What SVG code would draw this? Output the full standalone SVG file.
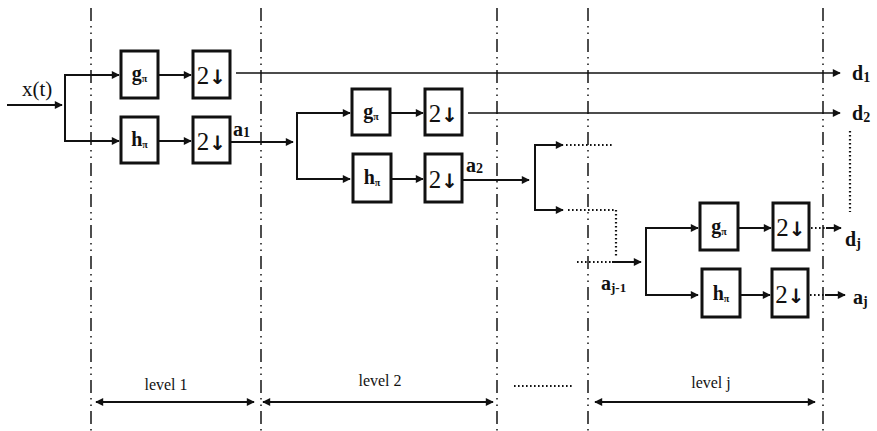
<svg xmlns="http://www.w3.org/2000/svg" width="877" height="431" viewBox="0 0 877 431">
<style>
.sep{stroke:#222;stroke-width:1.6;stroke-dasharray:13 5 1.5 5 1.5 5;fill:none}
.box{fill:#fff;stroke:#111;stroke-width:3}
.ln{stroke:#111;stroke-width:2;fill:none}
.thin{stroke:#111;stroke-width:1.6;fill:none}
.dot{stroke:#111;stroke-width:2.2;stroke-dasharray:1.6 2.4;fill:none}
text{font-family:'Liberation Serif','Times New Roman','DejaVu Serif',serif;fill:#111}
.bl{font-weight:bold}
.ar{font-family:'DejaVu Sans',sans-serif;font-weight:bold}
.lv{font-size:16px}
</style>
<defs>
<marker id="ah" viewBox="0 0 10 10" refX="9" refY="5" markerWidth="10" markerHeight="8" markerUnits="userSpaceOnUse" orient="auto-start-reverse">
<path d="M0,0 L10,5 L0,10 z" fill="#111"/>
</marker>
</defs>
<rect width="877" height="431" fill="#fff"/>
<g id="separators">
<line class="sep" x1="91" y1="8" x2="91" y2="431"/>
<line class="sep" x1="261" y1="8" x2="261" y2="431"/>
<line class="sep" x1="497" y1="8" x2="497" y2="431"/>
<line class="sep" x1="588" y1="8" x2="588" y2="431"/>
<line class="sep" x1="823" y1="8" x2="823" y2="431"/>
</g>
<g id="connectors">
<line class="ln" x1="7" y1="105" x2="62" y2="105" marker-end="url(#ah)"/>
<polyline class="ln" points="119,75 65,75 65,141 119,141" marker-start="url(#ah)" marker-end="url(#ah)"/>
<line class="ln" x1="158" y1="75" x2="191" y2="75" marker-end="url(#ah)"/>
<line class="ln" x1="158" y1="141" x2="191" y2="141" marker-end="url(#ah)"/>
<line class="thin" x1="236" y1="73" x2="840" y2="73" marker-end="url(#ah)"/>
<line class="ln" x1="230" y1="142" x2="293" y2="142" marker-end="url(#ah)"/>
<polyline class="ln" points="350,113 297,113 297,179 350,179" marker-start="url(#ah)" marker-end="url(#ah)"/>
<line class="ln" x1="390" y1="113" x2="423" y2="113" marker-end="url(#ah)"/>
<line class="ln" x1="391" y1="179" x2="423" y2="179" marker-end="url(#ah)"/>
<line class="thin" x1="468" y1="113" x2="840" y2="113" marker-end="url(#ah)"/>
<line class="ln" x1="462" y1="180" x2="529" y2="180" marker-end="url(#ah)"/>
<polyline class="ln" points="563,145 535,145 535,210 563,210" marker-start="url(#ah)" marker-end="url(#ah)"/>
<line class="dot" x1="566" y1="145" x2="612" y2="145"/>
<polyline class="dot" points="568,210 616,210 616,256"/>
<line class="dot" x1="577" y1="262" x2="612" y2="262"/>
<line class="ln" x1="612" y1="262" x2="641" y2="262" marker-end="url(#ah)"/>
<polyline class="ln" points="698,228 646,228 646,295 698,295" marker-start="url(#ah)" marker-end="url(#ah)"/>
<line class="ln" x1="738" y1="228" x2="771" y2="228" marker-end="url(#ah)"/>
<line class="ln" x1="740" y1="295" x2="770" y2="295" marker-end="url(#ah)"/>
<line class="dot" x1="811" y1="228" x2="825" y2="228"/>
<line class="ln" x1="826" y1="228" x2="841" y2="228" marker-end="url(#ah)"/>
<line class="dot" x1="810" y1="295" x2="824" y2="295"/>
<line class="ln" x1="825" y1="295" x2="845" y2="295" marker-end="url(#ah)"/>
<line class="dot" x1="850" y1="131" x2="850" y2="212"/>
<line class="ln" x1="96" y1="402" x2="254" y2="402" marker-start="url(#ah)" marker-end="url(#ah)"/>
<line class="ln" x1="263" y1="402" x2="493" y2="402" marker-start="url(#ah)" marker-end="url(#ah)"/>
<line class="ln" x1="595" y1="402" x2="815" y2="402" marker-start="url(#ah)" marker-end="url(#ah)"/>
<line class="dot" x1="514" y1="386" x2="574" y2="386"/>
</g>
<g id="n-g1"><rect class="box" x="121" y="51" width="37" height="47"/><text class="bl" x="139.5" y="80" font-size="20" text-anchor="middle">g<tspan font-size="10" dy="2">π</tspan></text></g>
<g id="n-d1"><rect class="box" x="193" y="51" width="37" height="47"/><text x="211.5" y="84" font-size="25" text-anchor="middle">2<tspan class="ar" font-size="20">↓</tspan></text></g>
<g id="n-h1"><rect class="box" x="121" y="117" width="37" height="46"/><text class="bl" x="139.5" y="146" font-size="20" text-anchor="middle">h<tspan font-size="10" dy="2">π</tspan></text></g>
<g id="n-a1"><rect class="box" x="193" y="117" width="37" height="46"/><text x="211.5" y="150" font-size="25" text-anchor="middle">2<tspan class="ar" font-size="20">↓</tspan></text></g>
<g id="n-g2"><rect class="box" x="352" y="89" width="38" height="46"/><text class="bl" x="371" y="118" font-size="20" text-anchor="middle">g<tspan font-size="10" dy="2">π</tspan></text></g>
<g id="n-d2"><rect class="box" x="425" y="89" width="37" height="46"/><text x="443.5" y="122" font-size="25" text-anchor="middle">2<tspan class="ar" font-size="20">↓</tspan></text></g>
<g id="n-h2"><rect class="box" x="353" y="154" width="38" height="48"/><text class="bl" x="372" y="184" font-size="20" text-anchor="middle">h<tspan font-size="10" dy="2">π</tspan></text></g>
<g id="n-a2"><rect class="box" x="425" y="154" width="37" height="48"/><text x="443.5" y="188" font-size="25" text-anchor="middle">2<tspan class="ar" font-size="20">↓</tspan></text></g>
<g id="n-gj"><rect class="box" x="700" y="203" width="38" height="47"/><text class="bl" x="719" y="233" font-size="20" text-anchor="middle">g<tspan font-size="10" dy="2">π</tspan></text></g>
<g id="n-dj"><rect class="box" x="773" y="203" width="36" height="47"/><text x="791" y="236" font-size="25" text-anchor="middle">2<tspan class="ar" font-size="20">↓</tspan></text></g>
<g id="n-hj"><rect class="box" x="702" y="269" width="38" height="48"/><text class="bl" x="721" y="300" font-size="20" text-anchor="middle">h<tspan font-size="10" dy="2">π</tspan></text></g>
<g id="n-aj"><rect class="box" x="772" y="269" width="36" height="48"/><text x="790" y="303" font-size="25" text-anchor="middle">2<tspan class="ar" font-size="20">↓</tspan></text></g>
<g id="labels">
<text x="22" y="96" font-size="21">x(t)</text>
<text class="bl" x="233" y="136" font-size="20">a<tspan font-size="14" dy="1">1</tspan></text>
<text class="bl" x="466" y="172" font-size="20">a<tspan font-size="14" dy="1">2</tspan></text>
<text class="bl" x="601" y="290" font-size="20">a<tspan font-size="13" dy="2">j-1</tspan></text>
<text class="bl" x="852" y="80" font-size="20">d<tspan font-size="14" dy="2">1</tspan></text>
<text class="bl" x="852" y="120" font-size="20">d<tspan font-size="14" dy="2">2</tspan></text>
<text class="bl" x="845" y="246" font-size="20">d<tspan font-size="14" dy="2">j</tspan></text>
<text class="bl" x="853" y="304" font-size="20">a<tspan font-size="14" dy="2">j</tspan></text>
<text class="lv" x="166" y="390" text-anchor="middle">level 1</text>
<text class="lv" x="380" y="386" text-anchor="middle">level 2</text>
<text class="lv" x="711" y="388" text-anchor="middle">level j</text>
</g>
</svg>
